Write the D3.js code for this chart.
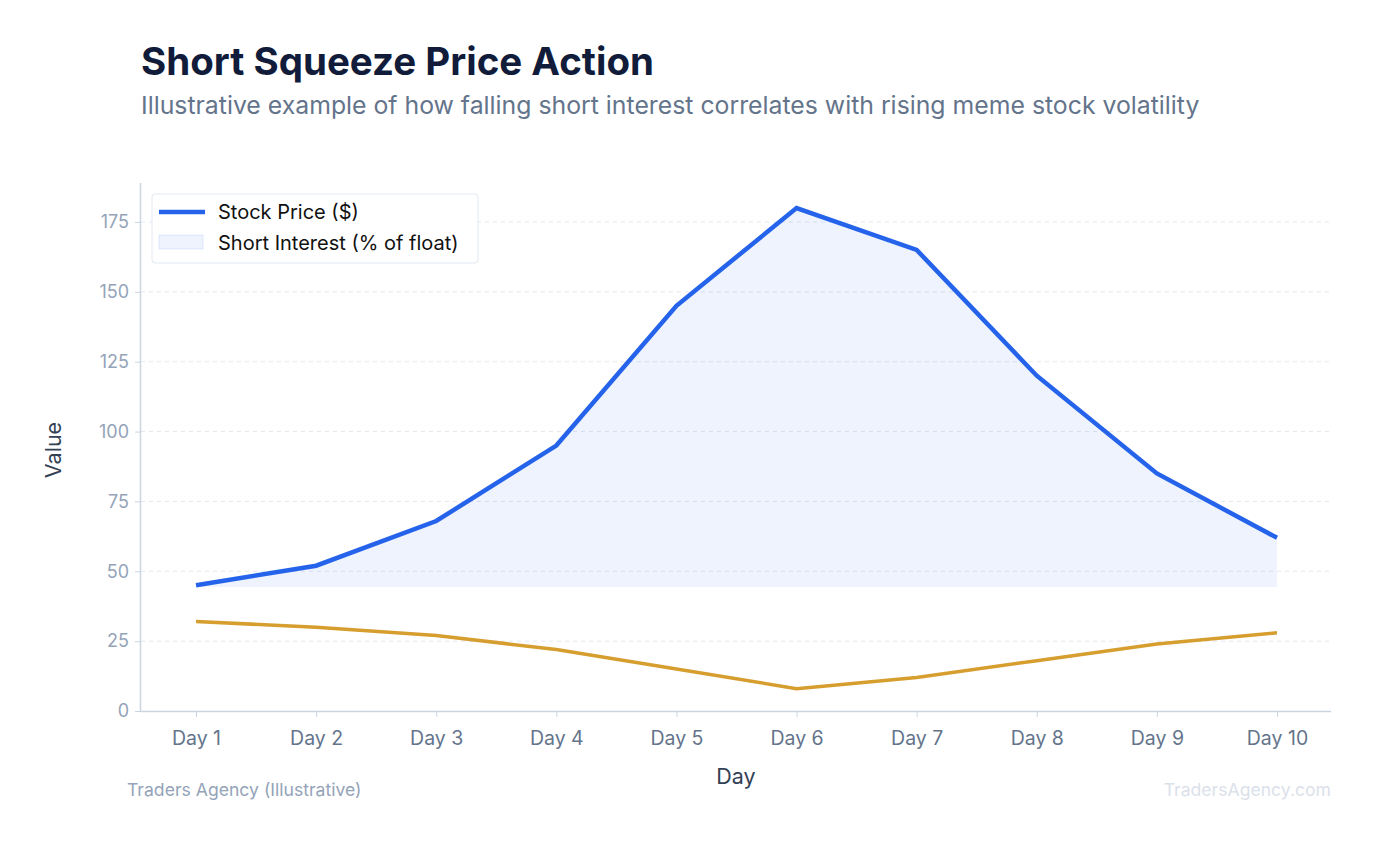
<!DOCTYPE html>
<html>
<head>
<script src="https://cdn.jsdelivr.net/npm/d3@7"></script>
<style>
  body { margin: 0; background: #fff; font-family: Inter, "Noto Sans", sans-serif; }
</style>
</head>
<body>
<svg width="1376" height="845"></svg>
<script>
const days = ["Day 1","Day 2","Day 3","Day 4","Day 5","Day 6","Day 7","Day 8","Day 9","Day 10"];
const stockPrice = [45, 52, 68, 95, 145, 180, 165, 120, 85, 62];
const shortInterest = [32, 30, 27, 22, 15, 8, 12, 18, 24, 28];
const yTicks = [0, 25, 50, 75, 100, 125, 150, 175];

const svg = d3.select("svg");
const x = d3.scalePoint().domain(days).range([196, 1277]);
const y = d3.scaleLinear().domain([0, 175]).range([711, 222]);
const plotTop = 183, plotLeft = 141, plotRight = 1331, plotBottom = 711;

// title
svg.append("text").attr("x", 141).attr("y", 75).attr("font-size", 38.5).attr("font-weight", 700)
  .attr("fill", "#111c3a").text("Short Squeeze Price Action");
svg.append("text").attr("x", 141).attr("y", 114).attr("font-size", 24.8).attr("fill", "#64748b")
  .text("Illustrative example of how falling short interest correlates with rising meme stock volatility");

// grid
svg.append("g").selectAll("line").data(yTicks.slice(1)).join("line")
  .attr("x1", plotLeft).attr("x2", plotRight).attr("y1", d => y(d)).attr("y2", d => y(d))
  .attr("stroke", "#e2e8f0").attr("stroke-dasharray", "4,4");

// axes
const ya = svg.append("g").attr("transform", `translate(${plotLeft},0)`)
  .call(d3.axisLeft(y).tickValues(yTicks).tickSize(6).tickPadding(6));
ya.select(".domain").attr("d", `M-0.5,${plotTop}V${plotBottom}`).attr("stroke", "#cbd5e1").attr("stroke-width", 1.5);
ya.selectAll(".tick line").attr("stroke", "#cbd5e1");
ya.selectAll(".tick text").attr("font-size", 18).attr("fill", "#94a3b8").attr("font-family", "Inter");

const xa = svg.append("g").attr("transform", `translate(0,${plotBottom})`)
  .call(d3.axisBottom(x).tickSize(6).tickPadding(14));
xa.select(".domain").attr("d", `M${plotLeft},0.5H${plotRight}`).attr("stroke", "#cbd5e1").attr("stroke-width", 1.5);
xa.selectAll(".tick line").attr("stroke", "#cbd5e1");
xa.selectAll(".tick text").attr("font-size", 19.5).attr("fill", "#64748b").attr("font-family", "Inter");

svg.append("text").attr("x", 736).attr("y", 784).attr("text-anchor", "middle").attr("font-size", 21.5)
  .attr("fill", "#334155").text("Day");
svg.append("text").attr("transform", "translate(61,450) rotate(-90)").attr("text-anchor", "middle")
  .attr("font-size", 21.5).attr("fill", "#334155").text("Value");

// area + lines
const base = d3.min(stockPrice) - 0.6;
svg.append("path").datum(stockPrice)
  .attr("d", d3.area().x((d, i) => x(days[i])).y0(y(base)).y1(d => y(d)))
  .attr("fill", "rgba(37,99,235,0.08)");
svg.append("path").datum(shortInterest)
  .attr("d", d3.line().x((d, i) => x(days[i])).y(d => y(d)))
  .attr("fill", "none").attr("stroke", "#d69e2e").attr("stroke-width", 3.5);
svg.append("path").datum(stockPrice)
  .attr("d", d3.line().x((d, i) => x(days[i])).y(d => y(d)))
  .attr("fill", "none").attr("stroke", "#2563eb").attr("stroke-width", 4.5);

// legend
const lg = svg.append("g");
lg.append("rect").attr("x", 152).attr("y", 194).attr("width", 326).attr("height", 69).attr("rx", 3)
  .attr("fill", "rgba(255,255,255,0.9)").attr("stroke", "#e2e8f0");
lg.append("line").attr("x1", 159).attr("x2", 205).attr("y1", 212).attr("y2", 212)
  .attr("stroke", "#2563eb").attr("stroke-width", 4.5);
lg.append("rect").attr("x", 159).attr("y", 235).attr("width", 44).attr("height", 14)
  .attr("fill", "rgba(37,99,235,0.08)").attr("stroke", "rgba(37,99,235,0.12)");
lg.append("text").attr("x", 218).attr("y", 219).attr("font-size", 20).attr("fill", "#111").text("Stock Price ($)");
lg.append("text").attr("x", 218).attr("y", 250).attr("font-size", 20).attr("fill", "#111").text("Short Interest (% of float)");

// footer
svg.append("text").attr("x", 127).attr("y", 796).attr("font-size", 17.6).attr("fill", "#94a3b8")
  .text("Traders Agency (Illustrative)");
svg.append("text").attr("x", 1331).attr("y", 796).attr("text-anchor", "end").attr("font-size", 17.6)
  .attr("fill", "#dbe1ea").text("TradersAgency.com");
</script>
</body>
</html>
